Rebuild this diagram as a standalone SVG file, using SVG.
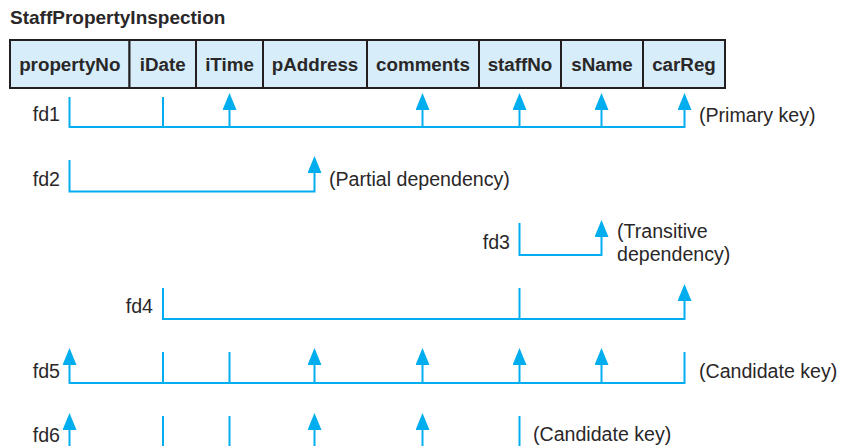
<svg xmlns="http://www.w3.org/2000/svg" width="843" height="446" viewBox="0 0 843 446">
<style>
.title{font-family:"Liberation Sans",Arial,sans-serif;font-size:19px;font-weight:bold;fill:#2a2728}
.cell{fill:#d7eefa;stroke:#231f20;stroke-width:2}
.fld{font-family:"Liberation Sans",Arial,sans-serif;font-size:18.8px;font-weight:bold;fill:#2a2728;text-anchor:middle}
.lbl{font-family:"Liberation Sans",Arial,sans-serif;font-size:19.6px;fill:#2a2728}
.end{text-anchor:end}
.c{fill:none;stroke:#00aeef;stroke-width:2}
.a{marker-end:url(#arr)}
</style>
<defs>
<marker id="arr" markerUnits="userSpaceOnUse" markerWidth="17" markerHeight="14" refX="9" refY="7" orient="auto" viewBox="0 0 17 14">
<path d="M0,0 L17,7 L0,14 z" fill="#00aeef"/>
</marker>
</defs>
<rect width="843" height="446" fill="#ffffff"/>
<text class="title" x="10" y="24">StaffPropertyInspection</text>
<g id="table">
<g id="propertyNo"><rect class="cell" x="10" y="40" width="119.5" height="48"/><text class="fld" x="69.75" y="71">propertyNo</text></g>
<g id="iDate"><rect class="cell" x="129.5" y="40" width="66.5" height="48"/><text class="fld" x="162.75" y="71">iDate</text></g>
<g id="iTime"><rect class="cell" x="196" y="40" width="67" height="48"/><text class="fld" x="229.5" y="71">iTime</text></g>
<g id="pAddress"><rect class="cell" x="263" y="40" width="104" height="48"/><text class="fld" x="315" y="71">pAddress</text></g>
<g id="comments"><rect class="cell" x="367" y="40" width="112" height="48"/><text class="fld" x="423" y="71">comments</text></g>
<g id="staffNo"><rect class="cell" x="479" y="40" width="82" height="48"/><text class="fld" x="520" y="71">staffNo</text></g>
<g id="sName"><rect class="cell" x="561" y="40" width="82" height="48"/><text class="fld" x="602" y="71">sName</text></g>
<g id="carReg"><rect class="cell" x="643" y="40" width="82" height="48"/><text class="fld" x="684" y="71">carReg</text></g>
</g>
<g id="labels">
<text class="lbl end" x="60" y="121">fd1</text>
<text class="lbl" x="699" y="122">(Primary key)</text>
<text class="lbl end" x="60" y="186">fd2</text>
<text class="lbl" x="329" y="186">(Partial dependency)</text>
<text class="lbl end" x="510" y="249">fd3</text>
<text class="lbl" x="617" y="238">(Transitive</text>
<text class="lbl" x="617" y="261">dependency)</text>
<text class="lbl end" x="153" y="313">fd4</text>
<text class="lbl end" x="60" y="378">fd5</text>
<text class="lbl" x="699" y="378">(Candidate key)</text>
<text class="lbl end" x="60" y="442">fd6</text>
<text class="lbl" x="533" y="441">(Candidate key)</text>
</g>
<g id="connectors">
<!-- fd1 -->
<path class="c a" d="M69.5,97 V127 H684.5 V101"/>
<path class="c" d="M163,97 V127"/>
<path class="c a" d="M229.5,127 V101"/>
<path class="c a" d="M422.5,127 V101"/>
<path class="c a" d="M519.5,127 V101"/>
<path class="c a" d="M601.5,127 V101"/>
<!-- fd2 -->
<path class="c a" d="M69.5,160 V191.5 H314.5 V164"/>
<!-- fd3 -->
<path class="c a" d="M519.5,223 V255 H601.5 V228"/>
<!-- fd4 -->
<path class="c a" d="M163,288 V319 H684.5 V292"/>
<path class="c" d="M519.5,288 V319"/>
<!-- fd5 -->
<path class="c a" d="M684.5,352 V383 H69.5 V356"/>
<path class="c" d="M163,352 V383"/>
<path class="c" d="M229.5,352 V383"/>
<path class="c a" d="M314.5,383 V356"/>
<path class="c a" d="M422.5,383 V356"/>
<path class="c a" d="M519.5,383 V356"/>
<path class="c a" d="M601.5,383 V356"/>
<!-- fd6 -->
<path class="c a" d="M69.5,447 V421"/>
<path class="c" d="M163,416 V447"/>
<path class="c" d="M229.5,416 V447"/>
<path class="c a" d="M314.5,447 V421"/>
<path class="c a" d="M422.5,447 V421"/>
<path class="c" d="M519.5,416 V447"/>
</g>
</svg>
